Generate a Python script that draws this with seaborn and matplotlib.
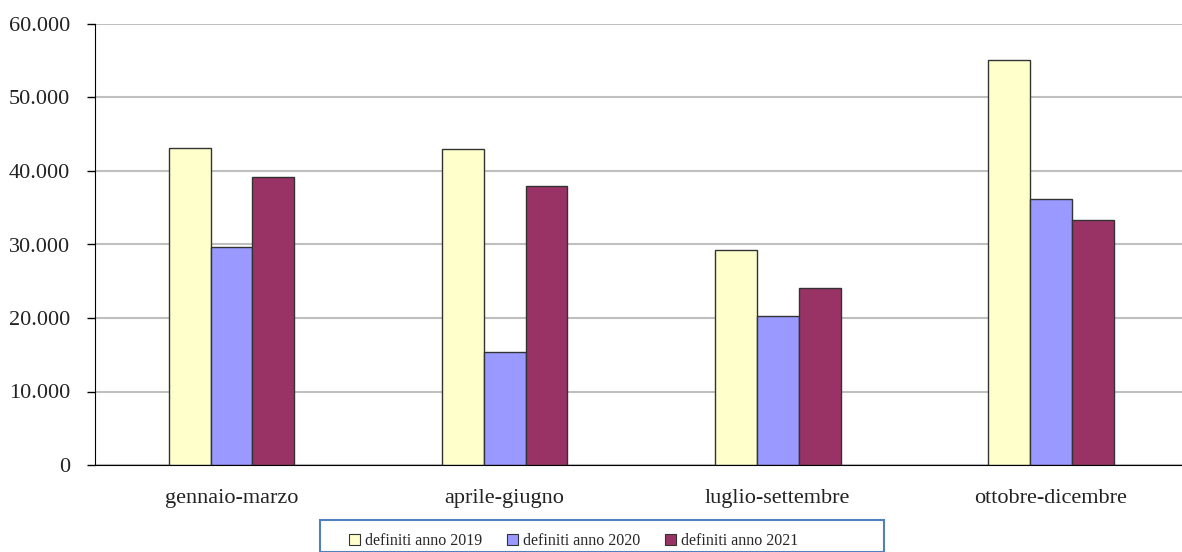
import pandas as pd
import matplotlib.pyplot as plt
import seaborn as sns
from matplotlib.ticker import FuncFormatter
from matplotlib.patches import Rectangle

trimestri = ["gennaio-marzo", "aprile-giugno", "luglio-settembre", "ottobre-dicembre"]
anni = ["definiti anno 2019", "definiti anno 2020", "definiti anno 2021"]
v2019 = [43100, 43000, 29200, 55100]
v2020 = [29700, 15400, 20300, 36200]
v2021 = [39200, 38000, 24100, 33400]
colori = ["#FFFFCC", "#9999FF", "#993366"]

df = pd.DataFrame({"Trimestre": trimestri, anni[0]: v2019, anni[1]: v2020, anni[2]: v2021})
df_long = df.melt(id_vars="Trimestre", var_name="Serie", value_name="Valore")

sns.set_style("white")
plt.rcParams["font.family"] = ["Liberation Serif", "DejaVu Serif"]

fig = plt.figure(figsize=(11.82, 5.52), dpi=100)
ax = fig.add_axes([95 / 1182, (552 - 465) / 552, (1182 - 95) / 1182, 441 / 552])

sns.barplot(data=df_long, x="Trimestre", y="Valore", hue="Serie", palette=colori,
            saturation=1, width=0.46, edgecolor="#333333", linewidth=1.0, ax=ax, legend=False)

ax.set_ylim(0, 60000)
ax.set_xlim(-0.5, 3.48)
ax.set_yticks(range(0, 60001, 10000))
ax.yaxis.set_major_formatter(FuncFormatter(lambda v, p: "0" if v == 0 else f"{int(v):,}".replace(",", ".")))
ax.grid(axis="y", color="#BFBFBF", linewidth=1.5)
ax.set_axisbelow(True)
for s in ["top", "right"]:
    ax.spines[s].set_visible(False)
ax.spines["left"].set_color("black")
ax.spines["bottom"].set_color("black")
ax.set_xticks([-0.5, 0.5, 1.5, 2.5], minor=True)
ax.tick_params(axis="x", which="minor", length=7, color="black", width=1)
ax.tick_params(axis="x", which="major", length=0, pad=17, labelsize=16, labelcolor="#222222")
ax.tick_params(axis="y", length=6, color="black", width=1, pad=12, labelsize=16, labelcolor="#222222", left=True)
ax.set_xlabel("")
ax.set_ylabel("")

# legend box (wider than its content, as in the original)
fig.patches.append(Rectangle((320 / 1182, 0), 564 / 1182, 1 - 520 / 552, transform=fig.transFigure,
                             facecolor="white", edgecolor="#4F81BD", linewidth=1.5, zorder=2))

handles = [plt.Rectangle((0, 0), 1, 1, facecolor=c, edgecolor="#333333", linewidth=0.8) for c in colori]
leg = fig.legend(handles, anni, loc="center left", bbox_to_anchor=(341 / 1182, 1 - 541 / 552),
                 ncol=3, frameon=False, fontsize=11.5, handlelength=0.7,
                 handleheight=0.7, handletextpad=0.3, columnspacing=1.55,
                 borderpad=0.0, bbox_transform=fig.transFigure)
leg.set_zorder(3)

fig.savefig("out.png", dpi=100)
